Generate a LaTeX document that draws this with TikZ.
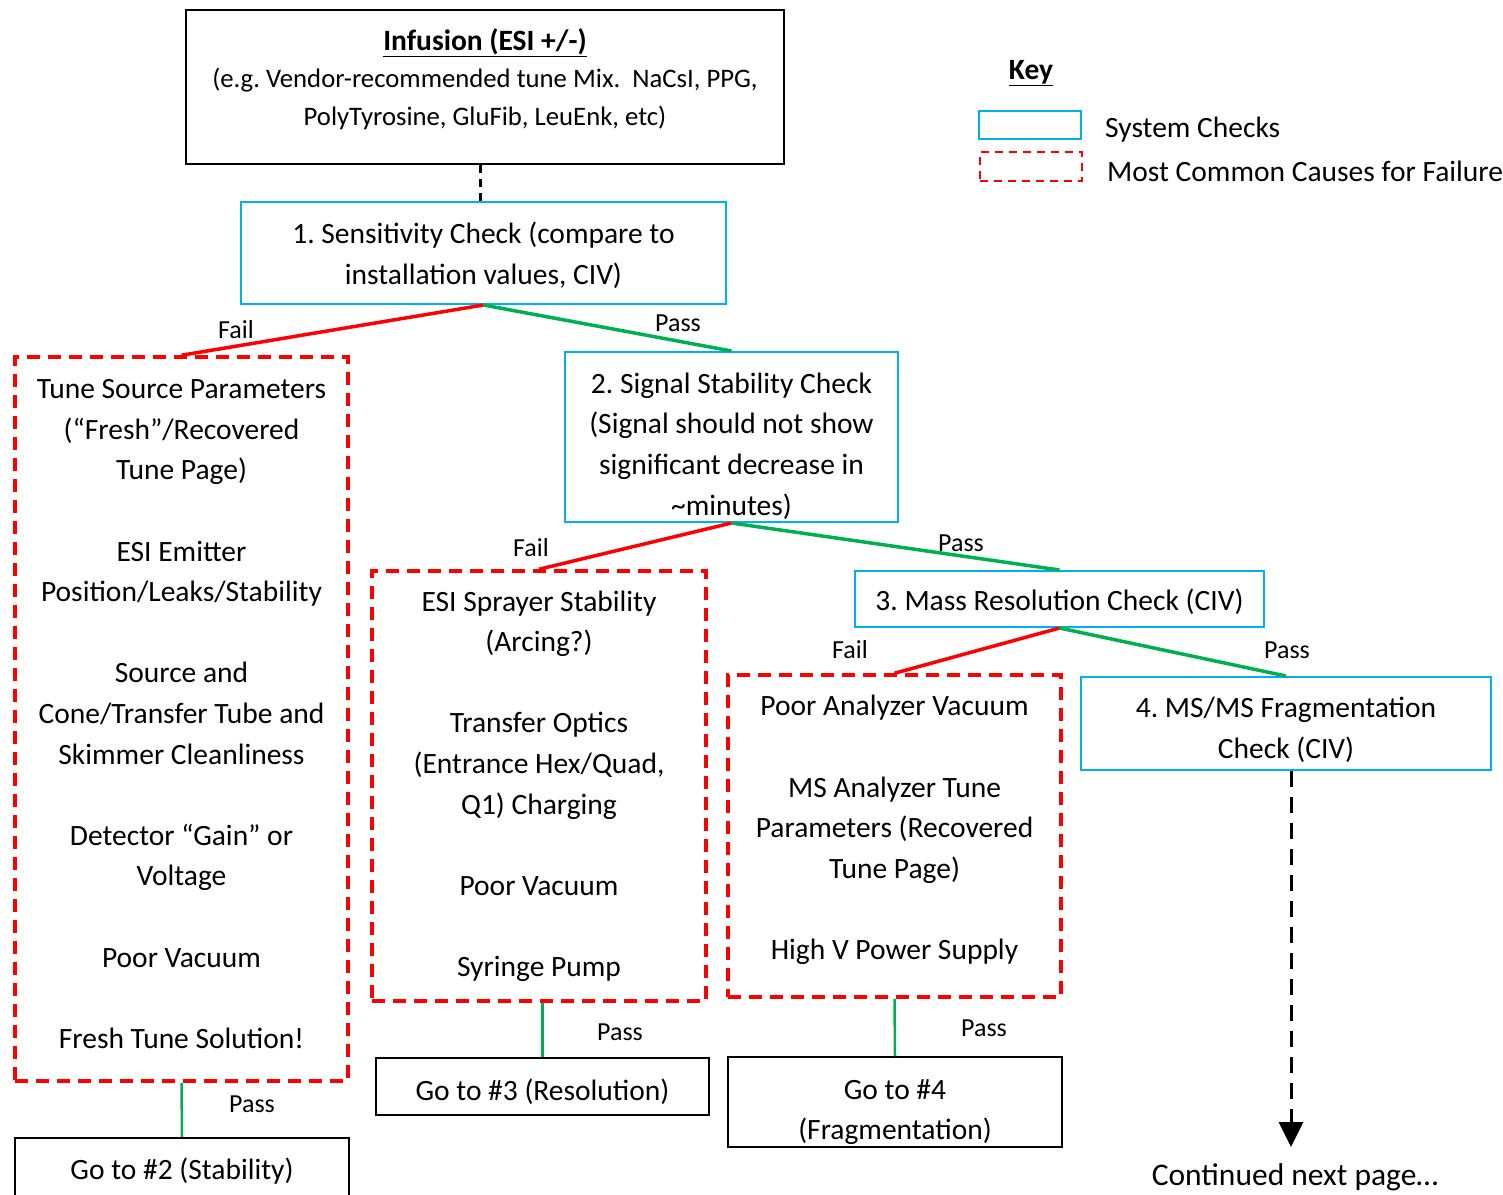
\documentclass[tikz,border=0pt]{standalone}
\usepackage{fontspec}
\setmainfont{Carlito}
\usetikzlibrary{arrows.meta}

\definecolor{checkblue}{RGB}{0,176,240}
\definecolor{failred}{RGB}{255,0,0}
\definecolor{passgreen}{RGB}{0,176,80}

\newcommand{\skipline}{\\[\baselineskip]}
\frenchspacing

\begin{document}
\begin{tikzpicture}[x=1pt,y=-1pt,
    txt/.style={font=\fontsize{29.5}{40.6}\selectfont,align=center,inner sep=0pt},
    checkbox/.style={draw=checkblue,line width=2pt,fill=white,inner sep=0pt},
    causebox/.style={draw=failred,line width=3.5pt,dash pattern=on 13pt off 8pt,fill=white,inner sep=0pt},
    gotobox/.style={draw=black,line width=2pt,fill=white,inner sep=0pt},
    failline/.style={failred,line width=3.5pt},
    passline/.style={passgreen,line width=3.5pt},
    lbl/.style={font=\fontsize{26}{30}\selectfont,inner sep=0pt}]
  \useasboundingbox (0,0) rectangle (1503,1194);

  % boxes
  \node[gotobox,minimum width=598pt,minimum height=154pt] (infusion) at (485,87) {};
  \node[checkbox,minimum width=485pt,minimum height=102pt] (sens) at (483.5,253) {};
  \node[causebox,minimum width=333pt,minimum height=724pt] (tune) at (181.5,719) {};
  \node[gotobox,minimum width=334pt,minimum height=64pt] (gostab) at (182,1170) {};
  \node[checkbox,minimum width=333pt,minimum height=170pt] (signal) at (731.5,437) {};
  \node[causebox,minimum width=334pt,minimum height=430pt] (sprayer) at (539,786) {};
  \node[gotobox,minimum width=333pt,minimum height=57pt] (gores) at (542.5,1086.5) {};
  \node[checkbox,minimum width=409pt,minimum height=56pt] (mass) at (1059.5,599) {};
  \node[causebox,minimum width=333pt,minimum height=322pt] (analyzer) at (894.5,836) {};
  \node[gotobox,minimum width=334pt,minimum height=90pt] (gofrag) at (895,1102) {};
  \node[checkbox,minimum width=410pt,minimum height=93pt] (msms) at (1286,723.5) {};
  \coordinate (arrowtip) at (1291,1147);

  % box texts
  \node[txt,font=\fontsize{26.7}{37.5}\selectfont] (infusiontxt) at (485,79)
    {{\fontsize{29.5}{37.5}\selectfont\bfseries\underline{Infusion (ESI +/-)}}\\(e.g. Vendor-recommended tune Mix.\ \ NaCsI, PPG,\\PolyTyrosine, GluFib, LeuEnk, etc)};
  \node[txt] (senstxt) at (483.5,255) {1. Sensitivity Check (compare to\\installation values, CIV)};
  \node[txt] (tunetxt) at (181.5,714)
    {Tune Source Parameters\\(“Fresh”/Recovered\\Tune Page)\skipline
     ESI Emitter\\Position/Leaks/Stability\skipline
     Source and\\Cone/Transfer Tube and\\Skimmer Cleanliness\skipline
     Detector “Gain” or\\Voltage\skipline Poor Vacuum\skipline Fresh Tune Solution!};
  \node[txt] (gostabtxt) at (182,1171) {Go to \#2 (Stability)};
  \node[txt] (signaltxt) at (731.5,446)
    {2. Signal Stability Check\\(Signal should not show\\significant decrease in\\\textasciitilde minutes)};
  \node[txt] (sprayertxt) at (539,786)
    {ESI Sprayer Stability\\(Arcing?)\skipline
     Transfer Optics\\(Entrance Hex/Quad,\\Q1) Charging\skipline
     Poor Vacuum\skipline Syringe Pump};
  \node[txt] (gorestxt) at (542.5,1091.5) {Go to \#3 (Resolution)};
  \node[txt] (masstxt) at (1059.5,602) {3. Mass Resolution Check (CIV)};
  \node[txt] (analyzertxt) at (894.5,830)
    {Poor Analyzer Vacuum\skipline
     MS Analyzer Tune\\Parameters (Recovered\\Tune Page)\skipline
     High V Power Supply};
  \node[txt] (gofragtxt) at (895,1112) {Go to \#4\\(Fragmentation)};
  \node[txt] (msmstxt) at (1286,729.5) {4. MS/MS Fragmentation\\Check (CIV)};
  \node[txt,font=\fontsize{31.5}{36}\selectfont] (nextpage) at (1295,1177) {Continued next page…};

  % key
  \node[txt,font=\fontsize{29.5}{34}\selectfont\bfseries] (keytitle) at (1031,73) {\underline{Key}};
  \node[draw=checkblue,line width=2pt,minimum width=102pt,minimum height=28pt] (keycheck) at (1030,125) {};
  \node[txt,anchor=west] (keychecktxt) at (1105,130) {System Checks};
  \node[draw=failred,line width=2pt,dash pattern=on 8pt off 6pt,minimum width=102pt,minimum height=29pt] (keycause) at (1031,166.5) {};
  \node[txt,anchor=west] (keycausetxt) at (1107,171) {Most Common Causes for Failure};

  % connectors
  \draw[line width=3pt,dash pattern=on 8pt off 6pt] ([xshift=-5pt]infusion.south) -- ([xshift=-5pt]infusion.south |- sens.north);
  \draw[failline] (sens.south) -- (tune.north);
  \draw[passline] (sens.south) -- (signal.north);
  \draw[passline,line width=2.5pt] (tune.south) -- (gostab.north);
  \draw[failline] (signal.south) -- (sprayer.north);
  \draw[passline] (signal.south) -- (mass.north);
  \draw[passline,line width=2.5pt] (gores.north |- sprayer.south) -- (gores.north);
  \draw[failline] (mass.south) -- (analyzer.north);
  \draw[passline] (mass.south) -- (msms.north);
  \draw[passline,line width=2.5pt] (analyzer.south) -- (gofrag.north);
  \draw[line width=3pt,dash pattern=on 16pt off 10pt,-{Triangle[width=24pt,length=25pt]}] (arrowtip |- msms.south) -- (arrowtip);

  \node[lbl] (fail1) at (236,330) {Fail};
  \node[lbl] (pass1) at (678,323) {Pass};
  \node[lbl] (pass1b) at (252,1104) {Pass};
  \node[lbl] (fail2) at (531,548) {Fail};
  \node[lbl] (pass2) at (961,543) {Pass};
  \node[lbl] (pass2b) at (620,1032) {Pass};
  \node[lbl] (fail3) at (850,650) {Fail};
  \node[lbl] (pass3) at (1287,650) {Pass};
  \node[lbl] (pass3b) at (984,1028) {Pass};
\end{tikzpicture}
\end{document}
